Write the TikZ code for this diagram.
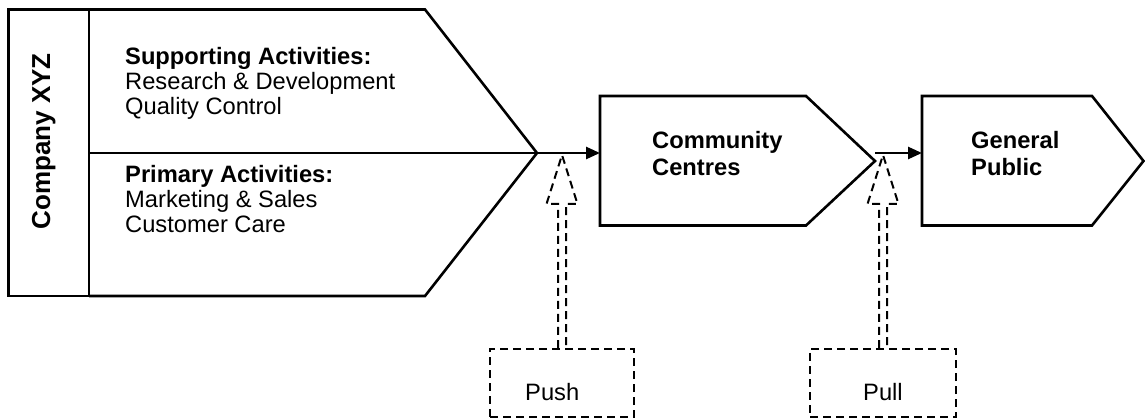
\documentclass[tikz,border=0pt]{standalone}
\usepackage{fontspec}
\setmainfont{Liberation Sans}
\usetikzlibrary{arrows.meta,positioning}

\begin{document}
\begin{tikzpicture}[x=1pt, y=-1pt,
  outline/.style={line width=2.6pt, line join=miter},
  flow/.style={line width=2.6pt, -{Triangle[length=14pt, width=12pt]}},
  hollow/.style={line width=2pt, dash pattern=on 8pt off 5pt, line join=miter},
  txt/.style={inner sep=0pt, anchor=base west, align=left, font=\fontsize{23.7}{25}\selectfont},
  stage/.style={txt, font=\fontsize{23.7}{26.5}\selectfont\bfseries},
  forcebox/.style={hollow, draw, anchor=north west, minimum height=68pt},
]
\useasboundingbox (0,0) rectangle (1145,419);

% company block and its value chain
\draw[outline] (8.5,9.5) rectangle (89,296);
\draw[outline] (89,9.5) -- (425,9.5) -- (537,153) -- (425,296) -- (89,296);
\draw[outline] (89,153) -- (537,153);
\coordinate (chaintip) at (537,153);

% (multi-line nodes sit on the baseline of their last line)
\node[rotate=90, anchor=base, inner sep=0pt, font=\fontsize{26}{26}\selectfont\bfseries] (company) at (50,141.5) {Company XYZ};
\node[txt] (support) at (125,115) {\textbf{Supporting Activities:}\\Research \& Development\\Quality Control};
\node[txt] (primary) at (125,233) {\textbf{Primary Activities:}\\Marketing \& Sales\\Customer Care};

% community centres
\draw[outline] (600,96) -- (806,96) -- (875,161) -- (806,225.5) -- (600,225.5) -- cycle;
\coordinate (ccin) at (600,153);
\coordinate (ccout) at (875,153);
\node[stage] (cc) at (652,175.5) {Community\\Centres};

% general public
\draw[outline] (922,96) -- (1092,96) -- (1143.5,161) -- (1092,225.5) -- (922,225.5) -- cycle;
\coordinate (gpin) at (922,153);
\node[stage] (gp) at (971,175.5) {General\\Public};

\draw[flow] (chaintip) -- (ccin);
\draw[flow] (ccout) -- (gpin);

% push / pull
\node[forcebox, minimum width=144pt] (push) at (489,348) {};
\node[forcebox, minimum width=146pt] (pull) at (809,348) {};
\node[txt] (pushtxt) at (525,400) {Push};
\node[txt] (pulltxt) at (863,400) {Pull};

\foreach \b in {push,pull} {
  \draw[hollow] ([xshift=-4pt]\b.north) -- ++(0,-144) -- ++(-11.5,0) -- ++(15.5,-49)
    -- ++(15.5,49) -- ++(-11.5,0) -- ++(0,144);
}
\end{tikzpicture}
\end{document}
